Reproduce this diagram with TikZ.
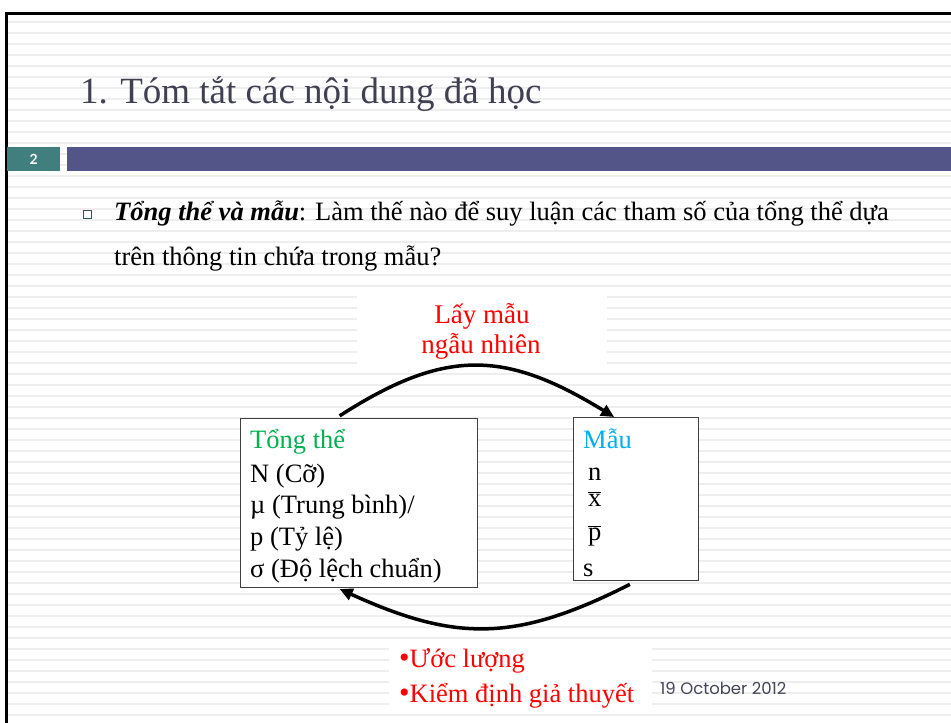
\documentclass[tikz,border=0pt]{standalone}
\usepackage{fontspec}
\setmainfont{Liberation Serif}
\newfontfamily\datefont{Poppins}
\newfontfamily\numfont{Lato}
\usetikzlibrary{arrows.meta, calc}
\definecolor{titlegray}{HTML}{404052}
\definecolor{bandteal}{HTML}{417E7E}
\definecolor{bandpurple}{HTML}{535487}
\definecolor{popgreen}{HTML}{00B050}
\definecolor{samplecyan}{HTML}{00B0F0}
\definecolor{stripegray}{HTML}{EEEEEE}
\definecolor{dategray}{HTML}{45455A}

\tikzset{
  txt/.style={anchor=base west, inner sep=0pt, font=\fontsize{26.5}{30}\selectfont},
  popbox/.style={draw=black!75, fill=white, line width=1.2pt, inner sep=0pt, anchor=north west},
  flow/.style={line width=3.5pt, -{Triangle[length=13pt, width=12pt]}},
}
\newcommand{\bigdot}{{\fontsize{30}{30}\selectfont•}}

\begin{document}
\begin{tikzpicture}[x=1pt, y=-1pt]
    \useasboundingbox (0,0) rectangle (951,723);
    \fill[white] (0,0) rectangle (951,723);

    % Stripes
    \foreach \k in {0,...,63}
        \draw[stripegray, line width=1.3pt] (7,22+11*\k) -- (951,22+11*\k);

    % Frame
    \draw[black, line width=3pt] (6.5,723) -- (6.5,13.5) -- (951,13.5);

    % Title and band
    \node[txt, font=\fontsize{37}{40}\selectfont, text=titlegray] (title) at (80,103) {1. Tóm tắt các nội dung đã học};
    \node[fill=bandteal, minimum width=53, minimum height=24, inner sep=0pt, anchor=north west,
          text=white, font=\numfont\bfseries\fontsize{14}{16}\selectfont] (pagenum) at (7,147) {2};
    \fill[bandpurple] (67,147) rectangle (951,171);

    % Question
    \node[draw=bandteal!70!black, line width=0.9pt, minimum size=8pt, inner sep=0pt] (sq) at (87,214) {};
    \node[txt] (q1) at (114,220) {\textbf{\textit{Tổng thể và mẫu}}: Làm thế nào để suy luận các tham số của tổng thể dựa};
    \node[txt] (q2) at (114,265) {trên thông tin chứa trong mẫu?};

    % White patches behind red labels
    \fill[white] (357,295) rectangle (607,364);
    \fill[white] (389,648) rectangle (652,712);

    % Boxes
    \node[popbox, minimum width=237, minimum height=169] (tongthe) at (240,418) {};
    \node[popbox, minimum width=125, minimum height=163] (mau) at (573,417) {};

    % Population
    \node[txt, text=popgreen] (pophead) at (250,448) {Tổng thể};
    \node[txt] (popN) at (250,482) {N (Cỡ)};
    \node[txt] (popmu) at (250,513) {µ (Trung bình)/};
    \node[txt] (popp) at (250,545) {p (Tỷ lệ)};
    \node[txt] (popsig) at (250,577) {σ (Độ lệch chuẩn)};

    % Sample
    \node[txt, text=samplecyan] (samhead) at (583,448) {Mẫu};
    \node[txt] (samn) at (588,480) {n};
    \node[txt] (samx) at (588,506) {$\overline{\hbox{x}}$};
    \node[txt] (samp) at (588,540) {$\overline{\hbox{p}}$};
    \node[txt] (sams) at (583,576) {s};

    % Arrows
    \draw[flow, shorten <=4pt] (tongthe.105) .. controls (445,348) and (505,350) .. (mau.105);
    \draw[flow, shorten <=7pt, shorten >=2pt] (mau.south) .. controls (516,642) and (456,642) .. (tongthe.256);

    % Red labels
    \node[anchor=base, inner sep=0pt, font=\fontsize{27}{30}\selectfont, text=red] (lay1) at (482,323) {Lấy mẫu};
    \node[anchor=base, inner sep=0pt, font=\fontsize{27}{30}\selectfont, text=red] (lay2) at (481,353) {ngẫu nhiên};
    \node[txt, text=red] (uoc) at (399,667) {\bigdot Ước lượng};
    \node[txt, text=red] (kiem) at (399,702) {\bigdot Kiểm định giả thuyết};

    % Footer
    \node[anchor=base west, inner sep=0pt, font=\datefont\fontsize{16.5}{18}\selectfont, text=dategray] (date) at (660,694) {19 October 2012};
\end{tikzpicture}
\end{document}
